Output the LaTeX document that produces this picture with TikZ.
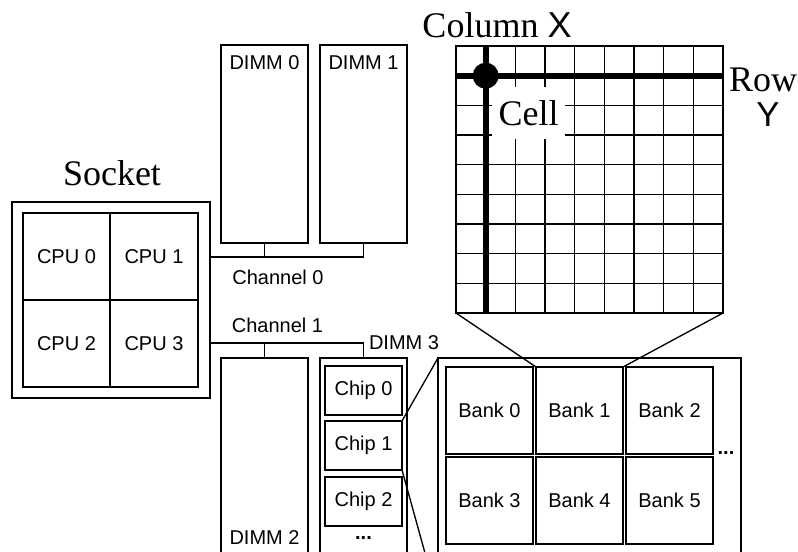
\documentclass[tikz,border=0pt]{standalone}
\usepackage{fontspec}
\setmainfont{Liberation Serif}
\setsansfont{Liberation Sans}
\newcommand\mkbox[6][]{\node[boxst,#1,minimum width={(#5-#3)*0.75pt},minimum height={(#6-#4)*0.75pt}] (#2) at ({(#3+#5)/2},{(#4+#6)/2}) {};}
\tikzset{
  boxst/.style={draw,line width=1pt,inner sep=0pt,outer sep=0pt,font=\sffamily\fontsize{15}{18}\selectfont},
  lbl/.style={inner sep=0pt,font=\sffamily\fontsize{15}{18}\selectfont},
  big/.style={inner sep=0pt,font=\rmfamily\fontsize{27}{30}\selectfont},
  bigsf/.style={inner sep=0pt,font=\sffamily\fontsize{26}{30}\selectfont},
  wire/.style={line width=1pt},
  gridln/.style={line width=1pt},
  thick line/.style={line width=4.5pt}
}
\begin{document}
\begin{tikzpicture}[x=0.75pt,y=-0.75pt]
\clip (0,0) rectangle (798,552);
\fill[white] (0,0) rectangle (798,552);
% Socket
\node[big] (socklbl) at (112,173) {Socket};
\mkbox{sock}{12}{202}{210}{398}
\mkbox{cpu0}{23}{213}{110}{300}
\mkbox{cpu1}{110}{213}{198}{300}
\mkbox{cpu2}{23}{300}{110}{387}
\mkbox{cpu3}{110}{300}{198}{387}
\node[lbl] at (cpu0) {CPU 0};
\node[lbl] at (cpu1) {CPU 1};
\node[lbl] at (cpu2) {CPU 2};
\node[lbl] at (cpu3) {CPU 3};
% DIMMs
\mkbox{dimm0}{221}{45}{308}{243}
\mkbox{dimm1}{320}{45}{407}{243}
\mkbox{dimm2}{221}{358}{308}{600}
\mkbox{dimm3}{320}{358}{407}{600}
\node[lbl] (d0l) at (264.5,63) {DIMM 0};
\node[lbl] (d1l) at (363.5,63) {DIMM 1};
\node[lbl] (d2l) at (264.5,538) {DIMM 2};
\node[lbl] (d3l) at (404,343) {DIMM 3};
% Channels
\coordinate (c0) at (210,257);
\coordinate (c1) at (210,343);
\draw[wire] (c0) -- (dimm1.south |- c0) -- (dimm1.south);
\draw[wire] (dimm0.south) -- (dimm0.south |- c0);
\draw[wire] (c1) -- (dimm3.north |- c1) -- (dimm3.north);
\draw[wire] (dimm2.north) -- (dimm2.north |- c1);
\node[lbl] (ch0) at (278,277) {Channel 0};
\node[lbl] (ch1) at (277.5,325) {Channel 1};
% Chips
\mkbox{chip0}{325}{366}{402}{415}
\mkbox{chip1}{325}{421}{402}{470}
\mkbox{chip2}{325}{477}{402}{526}
\node[lbl] at (chip0) {Chip 0};
\node[lbl] at (chip1) {Chip 1};
\node[lbl] at (chip2) {Chip 2};
\node[lbl,font=\sffamily\bfseries\fontsize{15}{18}\selectfont] (cdots) at (363.5,538) {...};
% Banks
\mkbox{banks}{438}{358}{741}{600}
\mkbox{bank0}{446}{367}{533}{454}
\mkbox{bank1}{536}{367}{623}{454}
\mkbox{bank2}{626}{367}{713}{454}
\mkbox{bank3}{446}{457}{533}{544}
\mkbox{bank4}{536}{457}{623}{544}
\mkbox{bank5}{626}{457}{713}{544}
\node[lbl] at (bank0) {Bank 0};
\node[lbl] at (bank1) {Bank 1};
\node[lbl] at (bank2) {Bank 2};
\node[lbl] at (bank3) {Bank 3};
\node[lbl] at (bank4) {Bank 4};
\node[lbl] at (bank5) {Bank 5};
\node[lbl,font=\sffamily\bfseries\fontsize{15}{18}\selectfont] (bdots) at (726,453) {...};
\draw[wire] (chip1.north east) -- (banks.north west);
\draw[wire] (chip1.south east) -- (banks.south west);
% Grid
\mkbox{grid}{456}{46}{723}{313}
\foreach \i in {1,...,8} {
  \draw[gridln] ({456+\i*29.667},46) -- ({456+\i*29.667},313);
  \draw[gridln] (456,{46+\i*29.667}) -- (723,{46+\i*29.667});
}
\draw[thick line] (485.667,46) -- (485.667,313);
\draw[thick line] (456,75.667) -- (723,75.667);
\fill (485.667,75.667) circle[radius=13];
\node[big,fill=white,minimum width={73*0.75pt},minimum height={52*0.75pt}] (cell) at (528.5,113.5) {Cell};
\node[big] (colx) at (497,25) {Column \sffamily X};
\node[big] (row) at (763,80) {Row};
\node[bigsf] (rowy) at (768,115) {Y};
\draw[wire] (grid.south west) -- (bank1.north west);
\draw[wire] (grid.south east) -- (bank1.north east);
\end{tikzpicture}
\end{document}
